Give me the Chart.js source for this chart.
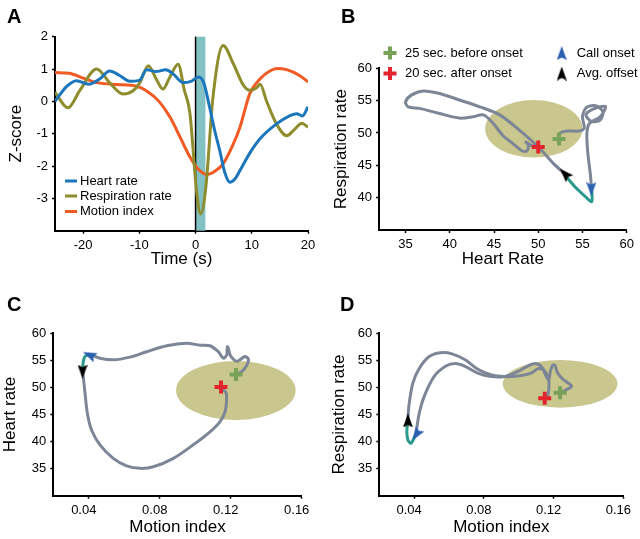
<!DOCTYPE html>
<html>
<head>
<meta charset="utf-8">
<script src="https://cdn.jsdelivr.net/npm/chart.js"></script>
<style>
  body { margin: 0; background: #fff; width: 640px; height: 539px; position: relative; overflow: hidden;
         font-family: "Liberation Sans", Arial, sans-serif; }
  canvas { position: absolute; }
  .tag { position: absolute; font-weight: bold; font-size: 20px; line-height: 20px; z-index: 2; }
</style>
</head>
<body>
<canvas id="chartA" width="320" height="270" style="left:0;top:0"></canvas>
<canvas id="chartB" width="320" height="270" style="left:320px;top:0"></canvas>
<canvas id="chartC" width="320" height="269" style="left:0;top:270px"></canvas>
<canvas id="chartD" width="320" height="269" style="left:320px;top:270px"></canvas>
<div class="tag" style="left:7px;top:6px">A</div>
<div class="tag" style="left:341px;top:6px">B</div>
<div class="tag" style="left:7px;top:294px">C</div>
<div class="tag" style="left:340px;top:294px">D</div>
<script>
// ---- panel A: z-scored traces around call onset ----
const timeHR = [-25, -23, -21.2, -19, -17, -15.3, -13.5, -11.7, -10, -8.7, -7, -5.3, -4, -2.2, -0.8, 0.5, 1.5, 2.5, 3.4, 4.3, 5.2, 6.1, 7, 7.9, 9.65, 11.5, 14, 16.8, 18, 19, 20];
const heartZ = [0, 0.45, 0.64, 0.53, 0.7, 0.94, 0.8, 0.62, 0.65, 0.98, 0.92, 0.98, 0.85, 0.58, 0.62, 0.75, 0.55, -0.18, -0.9, -1.52, -2.2, -2.5, -2.4, -2.14, -1.6, -1.15, -0.75, -0.44, -0.38, -0.45, -0.17];
const timeRR = [-25, -22.7, -20.6, -17.6, -15.3, -12.9, -11.1, -9.9, -8.4, -7, -5.8, -4.6, -3.1, -2, -1, 0.17, 0.9, 1.83, 3.1, 4.9, 6.7, 8.5, 9.65, 10.9, 11.5, 12.6, 14.4, 16.2, 17.7, 18.9, 20];
const respZ = [0.28, -0.2, 0.33, 1.0, 0.58, 0.23, 0.33, 0.58, 1.1, 0.69, 0.38, 0.74, 1.15, 0.35, -0.37, -2.76, -3.48, -2.65, 0.13, 1.73, 1.17, 0.5, 0.34, 0.43, 0.53, 0.02, -0.7, -1.06, -0.85, -0.68, -0.8];
const timeMI = [-25, -22.5, -20, -17.5, -14, -10.5, -8.5, -6.5, -4.5, -2.5, -1, 0.5, 2, 3.5, 4.9, 6.5, 7.9, 9.65, 11.5, 13.2, 14.5, 16.2, 18.5, 20];
const motionZ = [0.89, 0.87, 0.72, 0.58, 0.52, 0.47, 0.3, 0.0, -0.5, -1.2, -1.72, -2.1, -2.26, -2.15, -1.93, -1.4, -0.8, 0.24, 0.7, 0.94, 1.02, 0.98, 0.8, 0.6];
const seriesA = ['Heart rate', 'Respiration rate', 'Motion index'];
const callWindow = [0, 1.75];
const xTicksA = [-20, -10, 0, 10, 20];
const yTicksA = [-3, -2, -1, 0, 1, 2];

// ---- panel B: heart rate vs respiration rate ----
const bPreHR = [52.35, 52.5, 53.3, 54.6, 55.2, 55.0, 55.5, 56.5, 57.3, 57.0, 56.0, 55.4, 56.2, 57.6, 57.0, 55.8, 55.5, 55.6, 55.9, 56.0];
const bPreRR = [49.05, 50.0, 50.3, 50.3, 50.8, 52.5, 54.0, 54.2, 53.3, 52.0, 51.8, 52.8, 53.7, 54.1, 52.5, 51.5, 50.0, 47.0, 43.5, 41.8];
const bCallHR = [56.0, 56.05, 55.3, 54.2, 53.2];
const bCallRR = [41.8, 39.4, 40.2, 41.6, 43.2];
const bPostHR = [53.0, 51.7, 50.0, 47.9, 45.65, 43.4, 41.1, 38.85, 37.0, 35.65, 35.0, 35.3, 36.6, 38.85, 41.1, 42.6, 43.8, 44.9, 46.0, 47.1, 48.1, 48.7, 48.9, 48.6, 49.2, 50.0];
const bPostRR = [43.7, 45.3, 47.85, 50.4, 52.8, 54.05, 55.1, 56.1, 56.5, 55.85, 54.8, 54.05, 53.8, 53.0, 52.3, 52.5, 52.8, 51.5, 49.6, 48.4, 47.3, 47.2, 48.1, 48.6, 48.1, 47.8];
const bStart = [52.35, 49.05], bEnd = [50.0, 47.85], bOnset = [56.0, 41.3], bOffset = [53.0, 43.7];
const bEllipse = [49.5, 50.65, 5.5, 4.45];
const xTicksB = [35, 40, 45, 50, 55, 60];
const yTicksB = [40, 45, 50, 55, 60];

// ---- panel C: motion index vs heart rate ----
const cPreMI = [0.123, 0.1262, 0.129, 0.130, 0.128, 0.1252, 0.1234, 0.1215, 0.1196, 0.1187, 0.1181, 0.1177, 0.1158, 0.113, 0.1083, 0.1027, 0.0952, 0.0839, 0.0726, 0.0632, 0.0538, 0.0463, 0.0416];
const cPreHR = [52.4, 52.9, 54.1, 55.2, 55.7, 55.1, 54.8, 55.2, 56.0, 57.2, 57.5, 56.0, 55.4, 56.6, 57.7, 57.8, 58.15, 57.7, 56.6, 55.6, 55.1, 55.4, 56.0];
const cCallMI = [0.0400, 0.0378, 0.0368, 0.0366];
const cCallHR = [56.1, 55.7, 54.6, 53.3];
const cPostMI = [0.0366, 0.0379, 0.0392, 0.0416, 0.0463, 0.0538, 0.0613, 0.0689, 0.0764, 0.0877, 0.0989, 0.1083, 0.114, 0.1168, 0.1177, 0.1174, 0.1155, 0.1145];
const cPostHR = [52.9, 48.9, 45.2, 42.1, 39.4, 36.9, 35.5, 35.05, 35.35, 36.9, 39.4, 41.8, 43.7, 45.5, 47.7, 49.0, 49.6, 50.1];
const cStart = [0.123, 52.4], cEnd = [0.1145, 50.1], cOnset = [0.0403, 56.0], cOffset = [0.0365, 52.9];
const cEllipse = [0.1229, 49.45, 0.0337, 5.45];

// ---- panel D: motion index vs respiration rate ----
const dPreMI = [0.1237, 0.1303, 0.1275, 0.1247, 0.1219, 0.1209, 0.1196, 0.1181, 0.1172, 0.1158, 0.1134, 0.1096, 0.1049, 0.0993, 0.0918, 0.0843, 0.0768, 0.0692, 0.0636, 0.058, 0.0514, 0.0457, 0.0429, 0.0414];
const dPreRR = [49.0, 50.2, 51.0, 51.7, 52.9, 54.0, 54.15, 52.9, 51.4, 52.0, 53.7, 54.4, 53.9, 52.9, 52.0, 52.0, 52.6, 53.9, 54.4, 53.9, 52.0, 48.3, 45.2, 42.3];
const dCallMI = [0.0412, 0.0382, 0.0364, 0.0358, 0.0362];
const dCallRR = [41.5, 39.7, 40.3, 41.8, 43.5];
const dPostMI = [0.0364, 0.0369, 0.0392, 0.0429, 0.0486, 0.0551, 0.0617, 0.0692, 0.0768, 0.0843, 0.0918, 0.0993, 0.1068, 0.1115, 0.1153, 0.1172, 0.1172, 0.1165];
const dPostRR = [44.0, 46.4, 50.75, 53.5, 55.7, 56.4, 56.2, 55.1, 53.3, 52.3, 52.0, 52.1, 52.6, 53.5, 52.9, 51.4, 49.5, 48.3];
const dStart = [0.1237, 49.0], dEnd = [0.1149, 48.0], dOnset = [0.0412, 41.3], dOffset = [0.0364, 43.9];
const dEllipse = [0.1237, 50.67, 0.0329, 4.4];

const xTicksMI = [0.04, 0.08, 0.12, 0.16];
const yTicksCD = [35, 40, 45, 50, 55, 60];
const legendB = ['25 sec. before onset', '20 sec. after onset', 'Call onset', 'Avg. offset'];

const FONT = '"Liberation Sans", Arial, sans-serif';
Chart.defaults.font.family = FONT;
Chart.defaults.color = '#000';
Chart.defaults.animation = false;
Chart.defaults.events = [];

const GRAY = '#7c8696', TEAL = '#2a9a8c', GREEN = '#78a257', RED = '#e2252d', BLUE = '#2b5fb0';

const pts = (xs, ys) => xs.map((x, i) => ({x, y: ys[i]}));

function arrowHead(color) {
  const c = document.createElement('canvas');
  c.width = 10; c.height = 14;
  const g = c.getContext('2d');
  g.fillStyle = color;
  g.beginPath(); g.moveTo(5, 0); g.lineTo(10, 14); g.lineTo(5, 11.5); g.lineTo(0, 14); g.closePath(); g.fill();
  return c;
}
const blueHead = arrowHead(BLUE), blackHead = arrowHead('#000');

function axis(pos, min, max, ticks, title, size, titlePad, fmt, labelOffset) {
  return {
    type: 'linear', position: pos, min, max,
    afterBuildTicks: s => { s.ticks = ticks.map(v => ({value: v})); },
    afterFit: s => { if (pos === 'left') s.width = size; else s.height = size; },
    border: {color: '#000', width: 2},
    grid: {drawOnChartArea: false, tickLength: 3, tickColor: '#000', tickWidth: 1.5},
    ticks: {font: {size: 13}, color: '#000', padding: 4, maxRotation: 0, autoSkip: false,
            labelOffset: labelOffset || 0, callback: fmt || (v => String(v))},
    title: {display: true, text: title, color: '#000', font: {size: 17}, padding: {top: titlePad, bottom: titlePad}}
  };
}

function ellipsePlugin(e) {
  return {
    id: 'spread',
    beforeDatasetsDraw(chart) {
      const {ctx, scales: {x, y}} = chart;
      const cx = x.getPixelForValue(e[0]), cy = y.getPixelForValue(e[1]);
      ctx.save();
      ctx.fillStyle = '#c9c78e';
      ctx.beginPath();
      ctx.ellipse(cx, cy, Math.abs(x.getPixelForValue(e[0] + e[2]) - cx), Math.abs(y.getPixelForValue(e[1] + e[3]) - cy), 0, 0, Math.PI * 2);
      ctx.fill();
      ctx.restore();
    }
  };
}

function trajectory(pre, call, post, start, end, onset, offset, rotOn, rotOff) {
  const line = (data, color) => ({data, showLine: true, borderColor: color, borderWidth: 3, pointRadius: 0, tension: 0.3, borderCapStyle: 'round', borderJoinStyle: 'round'});
  const mark = (p, style, color, rot) => ({data: [{x: p[0], y: p[1]}], pointStyle: style, pointRadius: 6.5,
    pointBorderWidth: 4, pointBorderColor: color, pointBackgroundColor: color, pointRotation: rot || 0});
  return [
    mark(offset, blackHead, '#000', rotOff),
    mark(onset, blueHead, BLUE, rotOn),
    mark(end, 'cross', RED),
    mark(start, 'cross', GREEN),
    line(call, TEAL),
    line(post, GRAY),
    line(pre, GRAY)
  ];
}

// ---- chart A ----
new Chart(document.getElementById('chartA'), {
  type: 'line',
  data: {
    datasets: [
      {label: seriesA[0], data: pts(timeHR, heartZ), borderColor: '#1c76bb'},
      {label: seriesA[1], data: pts(timeRR, respZ), borderColor: '#8e8c2c'},
      {label: seriesA[2], data: pts(timeMI, motionZ), borderColor: '#f15a22'}
    ].map(d => Object.assign(d, {borderWidth: 3, pointRadius: 0, cubicInterpolationMode: 'monotone', fill: false}))
  },
  options: {
    responsive: false,
    layout: {padding: {top: 36.7, right: 12, left: 0, bottom: 0}},
    plugins: {legend: {display: false}, tooltip: {enabled: false}},
    scales: {
      x: axis('bottom', -25, 20, xTicksA, 'Time (s)', 39.3, 0.5),
      y: axis('left', -4, 2, yTicksA, 'Z-score', 55, 6.4)
    }
  },
  plugins: [{
    id: 'callBand',
    beforeDatasetsDraw(chart) {
      const {ctx, chartArea: {top, bottom}, scales: {x}} = chart;
      const x0 = x.getPixelForValue(callWindow[0]), x1 = x.getPixelForValue(callWindow[1]);
      ctx.save();
      ctx.fillStyle = '#82c2c5';
      ctx.fillRect(x0, top, x1 - x0, bottom - top);
      ctx.strokeStyle = '#000'; ctx.lineWidth = 1.5;
      ctx.beginPath(); ctx.moveTo(x0, top); ctx.lineTo(x0, bottom); ctx.stroke();
      ctx.restore();
    },
    afterDraw(chart) {
      const ctx = chart.ctx;
      const rows = [181, 196, 211.5];
      ctx.save();
      ctx.font = '13px ' + FONT;
      ctx.textBaseline = 'middle';
      chart.data.datasets.forEach((d, i) => {
        ctx.strokeStyle = d.borderColor; ctx.lineWidth = 3;
        ctx.beginPath(); ctx.moveTo(65, rows[i]); ctx.lineTo(77, rows[i]); ctx.stroke();
        ctx.fillStyle = '#000';
        ctx.fillText(d.label, 80, rows[i]);
      });
      ctx.restore();
    }
  }]
});

// ---- chart B ----
new Chart(document.getElementById('chartB'), {
  type: 'scatter',
  data: {datasets: trajectory(pts(bPreHR, bPreRR), pts(bCallHR, bCallRR), pts(bPostHR, bPostRR), bStart, bEnd, bOnset, bOffset, 180, -44)},
  options: {
    responsive: false,
    layout: {padding: {top: 68.3, right: 13.3, left: 0, bottom: 0}},
    plugins: {legend: {display: false}, tooltip: {enabled: false}},
    scales: {
      x: axis('bottom', 32, 60, xTicksB, 'Heart Rate', 40, 0.5),
      y: axis('left', 35, 60, yTicksB, 'Respiration rate', 59, 11)
    }
  },
  plugins: [ellipsePlugin(bEllipse), {
    id: 'legendB',
    afterDraw(chart) {
      const ctx = chart.ctx;
      const H = Chart.helpers;
      const items = [
        {x: 70, y: 53, style: 'cross', color: GREEN, rot: 0},
        {x: 70, y: 73.5, style: 'cross', color: RED, rot: 0},
        {x: 241.7, y: 53, style: blueHead, color: BLUE, rot: 0},
        {x: 241.7, y: 73.5, style: blackHead, color: '#000', rot: 0}
      ];
      ctx.save();
      ctx.font = '13px ' + FONT;
      ctx.textBaseline = 'middle';
      items.forEach((it, i) => {
        ctx.strokeStyle = it.color; ctx.fillStyle = it.color; ctx.lineWidth = 4;
        H.drawPoint(ctx, {pointStyle: it.style, rotation: it.rot, radius: 6.5, borderWidth: 4}, it.x, it.y);
        ctx.fillStyle = '#000';
        ctx.fillText(legendB[i], it.x + 15, it.y);
      });
      ctx.restore();
    }
  }]
});

// ---- chart C ----
const fmtMI = v => v.toFixed(2);
new Chart(document.getElementById('chartC'), {
  type: 'scatter',
  data: {datasets: trajectory(pts(cPreMI, cPreHR), pts(cCallMI, cCallHR), pts(cPostMI, cPostHR), cStart, cEnd, cOnset, cOffset, -66, 180)},
  options: {
    responsive: false,
    layout: {padding: {top: 63.3, right: 18.3, left: 0, bottom: 0}},
    plugins: {legend: {display: false}, tooltip: {enabled: false}},
    scales: {
      x: axis('bottom', 0.02, 0.16, xTicksMI, 'Motion index', 43.3, 1.4, fmtMI, -5),
      y: axis('left', 30, 60, yTicksCD, 'Heart rate', 53.3, 0)
    }
  },
  plugins: [ellipsePlugin(cEllipse)]
});

// ---- chart D ----
new Chart(document.getElementById('chartD'), {
  type: 'scatter',
  data: {datasets: trajectory(pts(dPreMI, dPreRR), pts(dCallMI, dCallRR), pts(dPostMI, dPostRR), dStart, dEnd, dOnset, dOffset, 214, 0)},
  options: {
    responsive: false,
    layout: {padding: {top: 63.3, right: 12.3, left: 0, bottom: 0}},
    plugins: {legend: {display: false}, tooltip: {enabled: false}},
    scales: {
      x: axis('bottom', 0.02, 0.16, xTicksMI, 'Motion index', 43.3, 1.4, fmtMI, -5),
      y: axis('left', 30, 60, yTicksCD, 'Respiration rate', 59.3, 9.4)
    }
  },
  plugins: [ellipsePlugin(dEllipse)]
});
</script>
</body>
</html>
